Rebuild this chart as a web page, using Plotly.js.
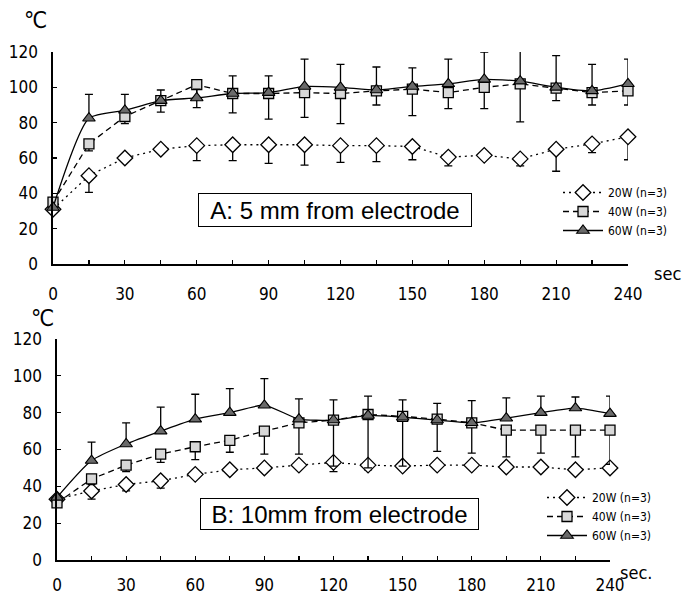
<!DOCTYPE html>
<html>
<head>
<meta charset="utf-8">
<script src="https://cdn.plot.ly/plotly-3.0.1.min.js"></script>
<style>html,body{margin:0;padding:0;background:#fff;}#chart{width:683px;height:596px;}</style>
</head>
<body>
<div id="chart"></div>
<script>
// time points (sec)
var time = [0,15,30,45,60,75,90,105,120,135,150,165,180,195,210,225,240];
var xTickVals = [0,30,60,90,120,150,180,210,240];
var seriesNames = ['20W (n=3)','40W (n=3)','60W (n=3)'];

// Panel A: 5 mm from electrode (mean, and error bar end)
var a20   = [31, 50, 60, 65, 67, 67.5, 67.5, 67.5, 67, 67, 66.5, 60.5, 61.5, 59.5, 65, 68, 72];
var a20lo = [31, 40.5, 60, 65, 58.5, 58.5, 57, 56, 57.5, 58, 59, 55.5, 61.5, 55.5, 52.5, 63, 59];
var a40   = [35, 68, 83.5, 92.5, 101.5, 96.5, 96.5, 97, 96.5, 98, 99, 97, 100, 102, 99.5, 97, 98];
var a40lo = [35, 64, 79.5, 86, 88.5, 85.5, 82, 83, 79.5, 90, 84, 88, 88, 80.5, 92.5, 90, 90];
var a60   = [32, 82.5, 87, 92.5, 94, 96.5, 97, 100.5, 100, 98.5, 100.5, 102, 104.5, 103.5, 100, 98, 102];
var a60hi = [32, 96, 96, 98.5, 99, 106.5, 106.5, 116, 113, 111.5, 111, 116, 120, 123, 118, 113, 116];

// Panel B: 10 mm from electrode
var b20   = [33, 37.5, 41, 43, 46.5, 49, 50, 51.5, 53, 51.5, 51, 51.5, 51.5, 50.5, 50.5, 49, 50];
var b20lo = [33, 33, 37.5, 39, 44.5, 49, 50, 51.5, 48, 49, 51, 51.5, 51.5, 50.5, 50.5, 49, 50];
var b40   = [31, 44, 51.5, 57.5, 61.5, 65, 70, 74.5, 76, 79, 78, 76.5, 74.5, 70.5, 70.5, 70.5, 70.5];
var b40lo = [31, 41, 48, 53, 54.5, 58.5, 57.5, 57.5, 51, 50, 51, 59, 58, 56, 58, 56, 52];
var b60   = [34, 54, 63, 70, 76.5, 80, 84, 76.5, 76, 78.5, 77.5, 76, 74.5, 77, 80, 82.5, 79.5];
var b60hi = [34, 64, 74.5, 83, 90, 93, 98.5, 87.5, 87, 89, 87, 85, 86.5, 88, 89, 88.5, 89];

function diff(a, b) { return a.map(function (v, i) { return Math.max(0, v - b[i]); }); }
function zeros(n) { var z = []; for (var i = 0; i < n; i++) z.push(0); return z; }

var N = time.length;
var ebBase = {type: 'data', symmetric: false, color: '#000', thickness: 1.3, width: 4};
function errMinus(v, lo) { return Object.assign({}, ebBase, {array: zeros(N), arrayminus: diff(v, lo)}); }
function errPlus(v, hi) { return Object.assign({}, ebBase, {array: diff(hi, v), arrayminus: zeros(N)}); }

var m20 = {symbol: 'diamond', size: 12, color: '#fff', line: {color: '#000', width: 1.3}};
var m40 = {symbol: 'square', size: 10, color: '#d8d8d8', line: {color: '#000', width: 1.3}};
var m60 = {symbol: 'triangle-up', size: 11, color: '#6a6a6a', line: {color: '#000', width: 1.1}};

function mk(xa, ya, leg, y, name, dash, marker, err, shape) {
  return {
    x: time, y: y, name: name, type: 'scatter', mode: 'lines+markers',
    xaxis: xa, yaxis: ya, legend: leg, cliponaxis: false,
    line: {color: '#000', width: 1.3, dash: dash, shape: shape || 'linear', smoothing: 0.6},
    marker: marker, error_y: err
  };
}

var data = [
  mk('x', 'y', 'legend', a20, seriesNames[0], '2px,4px', m20, errMinus(a20, a20lo)),
  mk('x', 'y', 'legend', a40, seriesNames[1], '6px,4px', m40, errMinus(a40, a40lo)),
  mk('x', 'y', 'legend', a60, seriesNames[2], 'solid', m60, errPlus(a60, a60hi), 'spline'),
  mk('x2', 'y2', 'legend2', b20, seriesNames[0], '2px,4px', m20, errMinus(b20, b20lo)),
  mk('x2', 'y2', 'legend2', b40, seriesNames[1], '6px,4px', m40, errMinus(b40, b40lo)),
  mk('x2', 'y2', 'legend2', b60, seriesNames[2], 'solid', m60, errPlus(b60, b60hi), 'spline')
];

var tickFont = {family: 'DejaVu Sans Condensed, Liberation Sans Narrow, Arial Narrow, sans-serif', size: 17, color: '#000'};

function xAxis(dom, anchor, standoff) {
  return {
    domain: dom, anchor: anchor, range: [0, 240], autorange: false,
    tickvals: xTickVals, ticktext: xTickVals.map(String),
    ticks: 'inside', ticklen: 4, tickwidth: 1.2, tickcolor: '#000',
    minor: {tickvals: time, ticks: 'inside', ticklen: 4, tickwidth: 1.2, tickcolor: '#000'},
    showline: true, linecolor: '#000', linewidth: 1.6,
    showgrid: false, zeroline: false, ticklabelstandoff: standoff, tickfont: tickFont
  };
}
function yAxis(dom, anchor) {
  return {
    domain: dom, anchor: anchor, range: [0, 120], autorange: false, dtick: 20, tick0: 0,
    ticks: 'inside', ticklen: 4, tickwidth: 1.2, tickcolor: '#000',
    showline: true, linecolor: '#000', linewidth: 1.6,
    showgrid: false, zeroline: false, ticklabelstandoff: 10, tickfont: tickFont
  };
}

var legFont = {family: 'DejaVu Sans Condensed, Liberation Sans Narrow, sans-serif', size: 12, color: '#000'};
var boxFont = {family: 'Liberation Sans, Arial, sans-serif', size: 24, color: '#000'};
var unitFont = {family: 'DejaVu Sans Condensed, sans-serif', size: 18, color: '#000'};
var degFont = {family: 'DejaVu Sans Condensed, sans-serif', size: 23, color: '#000'};

var layout = {
  width: 683, height: 596,
  margin: {l: 0, r: 0, t: 0, b: 0},
  paper_bgcolor: '#fff', plot_bgcolor: 'rgba(0,0,0,0)',
  showlegend: true,
  xaxis: xAxis([53/683, 628/683], 'y', 14),
  yaxis: yAxis([1 - 264/596, 1 - 52/596], 'x'),
  xaxis2: xAxis([57/683, 610/683], 'y2', 9),
  yaxis2: yAxis([1 - 560/596, 1 - 339/596], 'x2'),
  legend: {x: 558/683, y: 1 - 178/596, xanchor: 'left', yanchor: 'top', font: legFont,
           bgcolor: 'rgba(0,0,0,0)', itemwidth: 40, tracegroupgap: 0, borderwidth: 0},
  legend2: {x: 542/683, y: 1 - 483/596, xanchor: 'left', yanchor: 'top', font: legFont,
            bgcolor: 'rgba(0,0,0,0)', itemwidth: 40, tracegroupgap: 0, borderwidth: 0},
  annotations: [
    {text: 'A: 5 mm from electrode', xref: 'paper', yref: 'paper', x: 335/683, y: 1 - 210/596,
     xanchor: 'center', yanchor: 'middle', showarrow: false, font: boxFont,
     width: 270, height: 30, borderpad: 1, bordercolor: '#000', borderwidth: 1, bgcolor: '#fff'},
    {text: 'B: 10mm from electrode', xref: 'paper', yref: 'paper', x: 339/683, y: 1 - 514/596,
     xanchor: 'center', yanchor: 'middle', showarrow: false, font: boxFont,
     width: 275, height: 28, borderpad: 1, bordercolor: '#000', borderwidth: 1, bgcolor: '#fff'},
    {text: '℃', xref: 'paper', yref: 'paper', x: 35/683, y: 1 - 20/596, xanchor: 'center', yanchor: 'middle',
     showarrow: false, font: degFont},
    {text: '℃', xref: 'paper', yref: 'paper', x: 42/683, y: 1 - 318/596, xanchor: 'center', yanchor: 'middle',
     showarrow: false, font: degFont},
    {text: 'sec', xref: 'paper', yref: 'paper', x: 667/683, y: 1 - 273/596, xanchor: 'center', yanchor: 'middle',
     showarrow: false, font: unitFont},
    {text: 'sec.', xref: 'paper', yref: 'paper', x: 636/683, y: 1 - 572/596, xanchor: 'center', yanchor: 'middle',
     showarrow: false, font: unitFont}
  ]
};

Plotly.newPlot('chart', data, layout, {displayModeBar: false, staticPlot: true});
</script>
</body>
</html>
